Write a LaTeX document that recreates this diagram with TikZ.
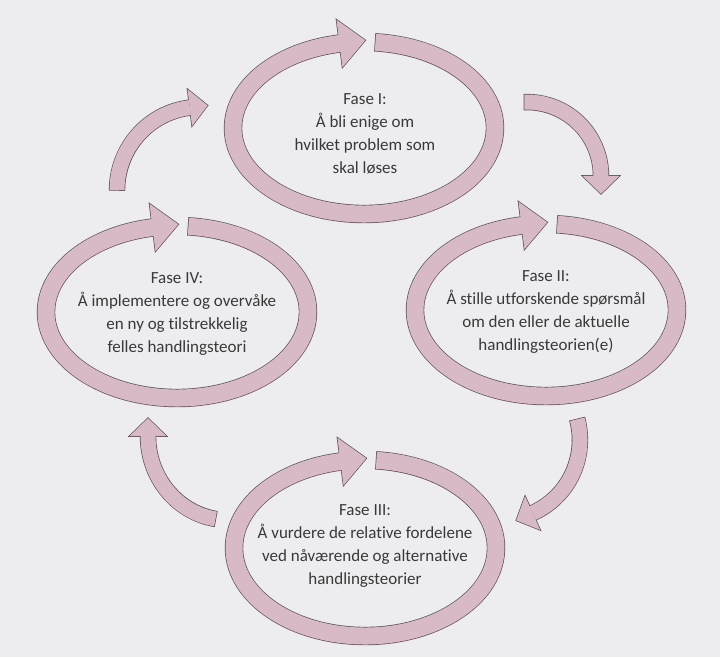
\documentclass[tikz,border=0pt]{standalone}
\usepackage{fontspec}
\setmainfont{Carlito}[Ligatures={NoCommon}]
\usetikzlibrary{decorations.markings,calc}
\definecolor{bandfill}{HTML}{D8BAC6}
\definecolor{bandedge}{HTML}{5E5058}
\definecolor{paper}{HTML}{EDECEF}
\definecolor{ink}{HTML}{3A3838}
% #1 path, #2 band width, #3 head half width, #4 head length
\newcommand\bandpath[4]{%
  \draw[bandedge, line width=#2+1.4pt, shorten <=-0.7pt,
    postaction={decorate, decoration={markings, mark=at position 0.999 with {\filldraw[bandedge, line width=1.4pt, line join=miter] (0,-#3) -- (#4,0) -- (0,#3) -- cycle;}}}] #1;
  \draw[bandfill, line width=#2,
    postaction={decorate, decoration={markings, mark=at position 0.999 with {\fill[bandfill] (0,-#3) -- (#4,0) -- (0,#3) -- cycle;}}}] #1;
}
\tikzset{
  phase/.style={align=center, text=ink, font=\fontsize{17}{23}\selectfont, inner sep=0pt}
}
\begin{document}
\begin{tikzpicture}[x=1pt, y=-1pt]
\fill[paper] (0,0) rectangle (720,657);
\useasboundingbox (0,0) rectangle (720,657);
% ring centres
\coordinate (c1) at (364,128);
\coordinate (c2) at (546,310);
\coordinate (c3) at (365,548);
\coordinate (c4) at (177,312);
% connector centres
\coordinate (k41) at (200,190);
\coordinate (k12) at (527,176);
\coordinate (k23) at (500,440);
\coordinate (k34) at (228,436);
% rings
\bandpath{($(c1)+(-85:131 and 86)$) arc[start angle=-85, end angle=259.5, x radius=131, y radius=86]}{17pt}{24}{26}
\bandpath{($(c2)+(-85:131 and 86)$) arc[start angle=-85, end angle=259.5, x radius=131, y radius=86]}{17pt}{24}{26}
\bandpath{($(c3)+(-85:131 and 88)$) arc[start angle=-85, end angle=259.5, x radius=131, y radius=88]}{17pt}{24}{26}
\bandpath{($(c4)+(-85:131 and 86)$) arc[start angle=-85, end angle=259.5, x radius=131, y radius=86]}{17pt}{24}{26}
% connectors
\bandpath{($(k41)+(180:83)$) arc[start angle=180, end angle=263, radius=83]}{15pt}{18.5}{18}
\bandpath{($(k12)+(268:74)$) arc[start angle=268, end angle=360, radius=74]}{15pt}{18.5}{18}
\bandpath{($(k23)+(-15:80)$) arc[start angle=-15, end angle=66, radius=80]}{15pt}{18.5}{18}
\bandpath{($(k34)+(99:80 and 84)$) arc[start angle=99, end angle=180, x radius=80, y radius=84]}{15pt}{18.5}{18}
% texts
\node[phase] (p1) at (365,134) {Fase I:\\Å bli enige om\\hvilket problem som\\skal løses};
\node[phase] (p2) at (546,312) {Fase II:\\Å stille utforskende spørsmål\\om den eller de aktuelle\\handlingsteorien(e)};
\node[phase] (p3) at (365,546) {Fase III:\\Å vurdere de relative fordelene\\ved nåværende og alternative\\handlingsteorier};
\node[phase] (p4) at (177,314) {Fase IV:\\Å implementere og overvåke\\en ny og tilstrekkelig\\felles handlingsteori};
\end{tikzpicture}
\end{document}
